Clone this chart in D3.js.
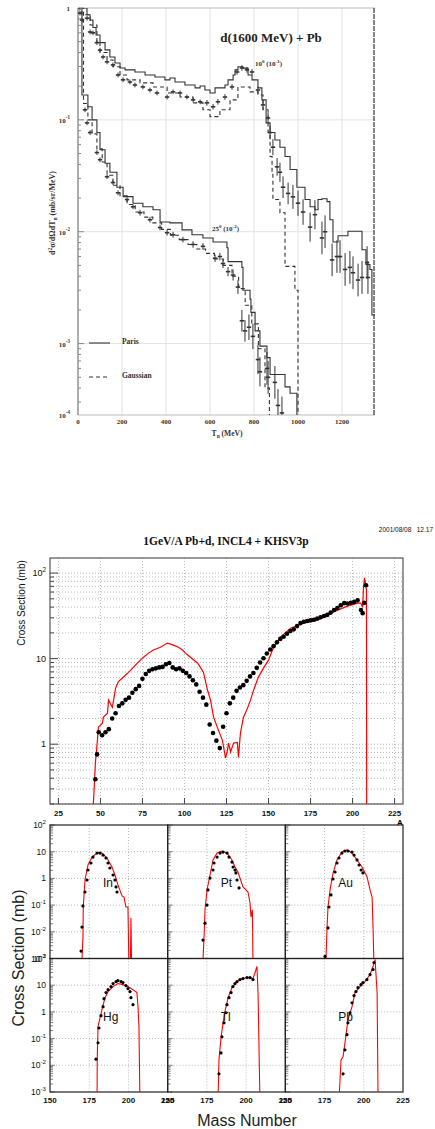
<!DOCTYPE html>
<html>
<head>
<meta charset="utf-8">
<script src="https://cdn.jsdelivr.net/npm/d3@7"></script>
<style>
body { margin: 0; background: #fff; }
svg { display: block; }
</style>
</head>
<body>
<script>
// ---------- top figure: d(1600 MeV)+Pb neutron spectra ----------
// histograms: [T start of bin (MeV), d2sigma (mb/sr/MeV)]
var paris10 = [[0,1.06],[23,1.0],[41,0.87],[55,0.78],[68,0.67],[82,0.574],[100,0.49],[123,0.422],[145,0.365],[168,0.322],[191,0.291],[214,0.28],[259,0.268],[305,0.252],[350,0.242],[395,0.228],[418,0.237],[441,0.218],[486,0.205],[532,0.193],[555,0.201],[577,0.185],[600,0.174],[623,0.193],[668,0.205],[682,0.228],[705,0.252],[714,0.28],[727,0.298],[750,0.29],[773,0.252],[791,0.228],[818,0.193],[836,0.151],[855,0.094],[873,0.077],[895,0.066],[918,0.057],[941,0.047],[964,0.036],[995,0.025],[1032,0.0194],[1055,0.0167],[1077,0.0157],[1091,0.0194],[1109,0.0197],[1132,0.0186],[1145,0.0128],[1159,0.0081],[1182,0.0092],[1227,0.0101],[1291,0.0069],[1309,0.0051],[1327,0.0046],[1336,0.0018],[1350,0.0018]];
var gauss10 = [[0,1.0],[9,0.96],[18,0.87],[55,0.705],[86,0.49],[100,0.40],[132,0.343],[159,0.298],[191,0.252],[223,0.228],[282,0.214],[341,0.197],[405,0.174],[464,0.16],[523,0.142],[568,0.123],[600,0.107],[645,0.123],[691,0.151],[727,0.197],[782,0.178],[818,0.167],[841,0.123],[864,0.077],[873,0.047],[882,0.034],[886,0.0194],[918,0.0148],[941,0.0049],[986,0.003],[1000,0.00001],[1350,0.00001]];
var paris25 = [[0,1.2],[18,0.167],[45,0.131],[64,0.1],[86,0.077],[100,0.054],[123,0.041],[145,0.034],[177,0.025],[205,0.0206],[250,0.018],[295,0.0167],[341,0.0157],[373,0.0122],[418,0.012],[473,0.0104],[518,0.0094],[568,0.0088],[614,0.0081],[677,0.0072],[682,0.0054],[745,0.0048],[750,0.003],[782,0.0025],[786,0.0019],[805,0.0013],[827,0.00095],[859,0.00075],[873,0.00053],[941,0.00041],[964,0.00036],[995,0.00022],[1020,0.00015],[1350,0.00015]];
var gauss25 = [[0,1.1],[25,0.14],[45,0.1],[64,0.075],[86,0.055],[110,0.042],[132,0.032],[159,0.026],[191,0.021],[223,0.0175],[260,0.015],[300,0.0135],[340,0.012],[380,0.0105],[420,0.0093],[460,0.0085],[500,0.0077],[540,0.007],[580,0.0064],[620,0.0057],[660,0.005],[700,0.004],[730,0.0031],[760,0.0022],[790,0.0015],[820,0.0009],[850,0.0004],[870,0.00001],[1350,0.00001]];
// measured points: [T, value, relative error]
var data10 = [[9,0.90,0.05],[18,0.78,0.05],[41,0.81,0.05],[55,0.61,0.05],[68,0.60,0.05],[86,0.49,0.05],[100,0.42,0.05],[114,0.365,0.05],[132,0.33,0.05],[159,0.31,0.05],[182,0.252,0.05],[205,0.228,0.05],[236,0.218,0.05],[259,0.205,0.05],[295,0.197,0.05],[327,0.185,0.05],[359,0.174,0.05],[405,0.16,0.05],[432,0.178,0.05],[464,0.174,0.05],[495,0.16,0.05],[523,0.151,0.05],[555,0.145,0.05],[586,0.142,0.06],[614,0.131,0.06],[636,0.145,0.06],[668,0.16,0.06],[700,0.197,0.06],[723,0.268,0.06],[745,0.291,0.06],[768,0.28,0.06],[791,0.268,0.06],[818,0.185,0.08],[841,0.136,0.1],[864,0.104,0.12],[873,0.077,0.15],[886,0.057,0.18],[905,0.038,0.2],[918,0.034,0.22],[932,0.025,0.25],[955,0.022,0.25],[977,0.0205,0.28],[1000,0.018,0.3],[1023,0.015,0.3],[1055,0.011,0.35],[1077,0.0142,0.35],[1109,0.0088,0.4],[1123,0.01,0.4],[1155,0.0056,0.4],[1177,0.006,0.4],[1191,0.006,0.4],[1214,0.0046,0.4],[1236,0.0048,0.4],[1250,0.0043,0.4],[1273,0.0037,0.4],[1291,0.0039,0.4],[1314,0.0053,0.4],[1318,0.0039,0.4]];
var data25 = [[32,0.123,0.05],[41,0.094,0.05],[55,0.077,0.05],[86,0.051,0.05],[100,0.044,0.05],[132,0.031,0.05],[159,0.0275,0.05],[182,0.0223,0.05],[223,0.0194,0.05],[250,0.0167,0.05],[282,0.0148,0.06],[327,0.0128,0.06],[373,0.0109,0.06],[405,0.0098,0.06],[432,0.0094,0.06],[477,0.0085,0.06],[523,0.0077,0.07],[568,0.0074,0.07],[623,0.0058,0.08],[645,0.006,0.08],[659,0.0052,0.1],[682,0.0044,0.1],[705,0.0041,0.12],[727,0.0032,0.15],[745,0.0016,0.25],[759,0.0013,0.25],[777,0.0014,0.3],[795,0.00116,0.3],[818,0.00072,0.35],[827,0.00056,0.35],[859,0.0006,0.4],[864,0.0005,0.4],[895,0.00045,0.4],[909,0.00028,0.4],[927,0.00024,0.4]];
var topXTicks = [0, 200, 400, 600, 800, 1000, 1200];
var topYExp = [0, -1, -2, -3, -4];

// ---------- middle figure: mass distribution ----------
var massA = [47,48,49,51,53,55,57,59,61,63,65,67,69,71,73,75,77,79,81,83,85,87,89,91,93,95,97,99,101,103,105,107,109,111,113,115,117,119,121,123,125,127,129,131,133,135,137,139,141,143,145,147,149,151,153,155,157,159,161,163,165,167,169,171,173,175,177,179,181,183,185,187,189,191,193,195,197,199,201,203,205,206,207,208];
var massData = [0.39,0.76,1.38,1.27,1.38,1.5,2.0,2.3,2.8,3.0,3.3,3.5,4.0,4.4,4.8,5.8,6.6,7.2,7.5,7.7,7.9,8.0,8.6,8.9,7.9,7.5,7.7,7.2,6.8,6.2,5.6,5.0,4.1,3.5,2.9,1.7,1.35,1.1,0.9,1.6,2.3,3.0,3.5,4.2,4.6,4.9,5.5,6.2,6.8,7.8,9.0,10.1,11.5,12.8,14.0,15.5,17.0,18.0,19.5,21.0,22.0,24.0,26.0,27.0,27.5,28.0,28.5,29.5,30.5,31.5,32.5,34.5,37.0,39.0,42.0,44.5,44.0,45.0,46.0,48.0,37.0,34.0,45.0,72.0];
var modelA = [45.8,47,48.2,48.8,51.2,51.8,54.2,54.8,57.1,59,60.7,63.7,66.7,69.6,72.6,75.6,78.6,81.5,85.7,89.9,93.5,96.4,98.8,101.2,103.6,107.7,109.5,111.3,113.7,115.5,117.3,120.2,122.6,124.4,125.6,126.2,127.4,129.2,131.5,132.1,133.3,135.1,137.5,139.3,141.1,144,147,150,153,157.1,163.1,170.8,179.2,185.1,191.1,197,203,204.8,206,206.5,207.1,208.3,208.4];
var modelV = [0.2,0.6,1.11,1.58,1.76,2.07,2.3,3.27,2.7,4.5,5.4,6.1,6.9,7.9,9.1,10.4,11.6,12.6,13.6,15.2,14.4,13.6,12.6,11.3,10.4,8.9,7.9,6.9,4.3,3.27,2.07,1.46,1.11,0.69,0.85,1.03,0.81,1.03,1.05,0.7,1.35,2.07,2.64,3.27,4.28,6.08,7.75,9.6,13.6,17.8,22.7,26.0,28.2,32.3,36.9,41.1,44.6,44.6,40.0,68.6,87.7,63.0,0.1];
var midXTicks = [25, 50, 75, 100, 125, 150, 175, 200, 225];
var midYExp = [0, 1, 2];

// ---------- bottom panels: isotopic distributions ----------
var elements = ["In", "Pt", "Au", "Hg", "Tl", "Pb"];
var inModel = [[170.4,0.0009],[171,0.0064],[171.2,0.085],[172.3,0.87],[174.2,3.18],[176.8,6.3],[180,8.9],[183.1,8.9],[186.3,5.8],[189.5,2.67],[191.4,1.34],[193.3,0.57],[195.9,0.22],[197.2,0.2],[198.4,0.085],[199.7,0.085],[200.3,0.0005],[201.2,0.0005],[201.6,0.033],[202,0.0005]];
var inData = [[169.8,0.0019],[170.4,0.015],[171,0.093],[172.3,0.31],[173.6,0.87],[174.2,2.06],[176.1,3.78],[177.4,6.3],[180,8.9],[181.9,8.9],[183.8,7.5],[185.7,5.8],[187,3.78],[188.2,2.45],[190.2,1.34],[191.4,0.87],[192.1,0.48],[192.7,0.31]];
var ptModel = [[172.5,0.0009],[173.2,0.0064],[173.8,0.066],[175.1,0.37],[177,1.34],[178.9,4.9],[181.5,8.9],[184.6,10.6],[187.8,8.9],[191,4.9],[192.9,2.67],[194.8,1.74],[198,0.48],[201.2,0.31],[202.5,0.12],[203.1,0.036],[204,0.066],[204.4,0.0005]];
var ptData = [[172.5,0.0049],[173.8,0.021],[175.1,0.1],[175.7,0.37],[177,1.03],[178.9,2.06],[179.5,3.78],[181.5,6.3],[183.4,8.9],[185.3,9.7],[187.8,8.9],[189.1,6.3],[191,4.1],[191.7,2.67],[192.9,2.06],[193.5,1.6],[194.2,0.87],[195.5,0.44]];
var auModel = [[175.9,0.0009],[176.6,0.015],[177.2,0.085],[178.5,0.37],[180.4,1.59],[182.9,4.9],[186.1,9.75],[189.3,11.6],[192.5,8.9],[195.7,4.9],[198.9,2.67],[202.1,1.13],[204,0.37],[205.3,0.2],[205.9,0.015],[206.5,0.0005]];
var auData = [[175.3,0.0012],[177.2,0.014],[177.8,0.085],[179.1,0.24],[180.4,0.95],[181.7,1.74],[182.9,3.78],[184.2,5.8],[186.1,8.9],[188,10.6],[190,10.6],[192.5,9.7],[193.8,7.5],[195.7,4.9],[197,3.18],[198.3,2.06],[199.5,1.6]];
var hgModel = [[180,0.0005],[180.1,0.016],[180.6,0.28],[181.9,0.6],[183.1,1.21],[185.1,3.42],[187,5.75],[190.2,8.85],[193.3,11.5],[196.5,10.5],[199.7,8.85],[202.9,6.8],[205.4,5.3],[206.1,1.57],[206.7,0.28],[207.3,0.0005]];
var hgData = [[179.3,0.017],[180.6,0.07],[181.2,0.25],[182.5,0.72],[183.8,1.57],[184.4,3.13],[185.7,5.3],[187,6.8],[188.9,8.85],[190.2,11.5],[192.1,13.6],[193.3,14.9],[195.3,13.6],[196.5,12.5],[198.4,9.7],[199.7,7.5],[201,5.75],[201.6,3.42],[202.9,1.87]];
var tlModel = [[182.1,0.0005],[182.7,0.016],[184,0.107],[185.3,0.39],[186.5,1.02],[188.5,3.42],[191,8.1],[194.2,13.6],[197.4,17.7],[201.2,19.3],[204.4,17.7],[205.7,29.8],[206.9,50],[207.6,5.3],[208.8,0.0005]];
var tlData = [[182.7,0.0048],[184,0.029],[184.6,0.117],[185.9,0.39],[187.2,0.93],[187.8,1.87],[189.1,3.42],[190.4,5.3],[191.6,8.85],[192.9,11.5],[194.2,13.6],[196.1,16.2],[198,17.7],[200.6,19.3],[202.5,19.3],[204.4,16.2]];
var pbModel = [[184.2,0.0005],[185.5,0.016],[186.8,0.021],[187.4,0.038],[188.7,0.14],[189.9,0.51],[192.5,1.57],[194.4,5.3],[197.6,8.85],[200.8,13.6],[204,25],[205.9,50],[207.2,92],[208.5,5.3],[209.1,0.0005]];
var pbData = [[186.8,0.0048],[188,0.038],[189.3,0.14],[189.9,0.39],[191.2,0.93],[192.5,2.2],[193.8,4.1],[195,5.75],[196.3,8.1],[198.2,10.5],[199.5,12.5],[202,16.2],[204,25],[205.9,38.5],[206.5,70.8]];
var panelXTicks = [150, 175, 200, 225];
var panelYExp = [-3, -2, -1, 0, 1, 2];

var svg = d3.select("body").append("svg").attr("width", 435).attr("height", 1129);
var serif = "Liberation Serif, Times New Roman, serif";
var sans = "Liberation Sans, Arial, Helvetica, sans-serif";

// write 10^e as text with superscript
function pow10(sel, e) {
  if (e === 0) { sel.text("1"); return; }
  sel.text("10");
  if (e !== 1) sel.append("tspan").attr("dy", -4).attr("font-size", "0.72em").text(e);
}

// ================= TOP =================
var tx = d3.scaleLinear().domain([0, 1350]).range([78, 375]);
var ty = d3.scaleLog().domain([2.3e-4, 1]).range([415, 8]);
var topG = svg.append("g");

topG.append("clipPath").attr("id", "clipTop").append("rect")
  .attr("x", 78).attr("y", 8).attr("width", 297).attr("height", 407);

// grid
topG.selectAll(".gx").data(topXTicks.slice(1)).enter().append("line")
  .attr("x1", tx).attr("x2", tx).attr("y1", 8).attr("y2", 415)
  .attr("stroke", "#e2e2e2").attr("stroke-width", 1);
topG.selectAll(".gy").data([0.1, 0.01, 0.001]).enter().append("line")
  .attr("x1", 78).attr("x2", 375).attr("y1", ty).attr("y2", ty)
  .attr("stroke", "#e2e2e2").attr("stroke-width", 1);

topG.append("line").attr("x1", 78).attr("x2", 375).attr("y1", 8).attr("y2", 8).attr("stroke", "#bbb");
topG.append("line").attr("x1", 78).attr("x2", 375).attr("y1", 415).attr("y2", 415).attr("stroke", "#bbb");
topG.append("line").attr("x1", 78).attr("x2", 78).attr("y1", 8).attr("y2", 415).attr("stroke", "#777").attr("stroke-width", 1.2);
topG.append("line").attr("x1", 374).attr("x2", 374).attr("y1", 8).attr("y2", 415)
  .attr("stroke", "#444").attr("stroke-width", 1.3).attr("stroke-dasharray", "5,1");

// minor ticks on the left axis
topG.selectAll(".mt").data(ty.ticks()).enter().append("line")
  .attr("x1", 78).attr("x2", function(d) { return Math.abs(Math.log10(d) % 1) < 1e-6 ? 84 : 81; })
  .attr("y1", ty).attr("y2", ty).attr("stroke", "#888");

topG.selectAll(".yl").data(topYExp).enter().append("text")
  .attr("x", 70).attr("y", function(e) { return (e > -4 ? ty(Math.pow(10, e)) : 415) + 3; })
  .attr("text-anchor", "end").attr("font-family", serif).attr("font-weight", "bold")
  .attr("font-size", 7).attr("fill", "#333")
  .each(function(e) { pow10(d3.select(this), e); });

topG.selectAll(".xl").data(topXTicks).enter().append("text")
  .attr("x", tx).attr("y", 424).attr("text-anchor", "middle")
  .attr("font-family", serif).attr("font-weight", "bold").attr("font-size", 7).attr("fill", "#333")
  .text(function(d) { return d; });

var xlab = topG.append("text").attr("x", 227).attr("y", 436).attr("text-anchor", "middle")
  .attr("font-family", serif).attr("font-weight", "bold").attr("font-size", 7.5).attr("fill", "#333");
xlab.append("tspan").text("T");
xlab.append("tspan").attr("dy", 2).attr("font-size", 5.5).text("n");
xlab.append("tspan").attr("dy", -2).text(" (MeV)");

var ylab = topG.append("text").attr("transform", "translate(55,213) rotate(-90)").attr("text-anchor", "middle")
  .attr("font-family", serif).attr("font-weight", "bold").attr("font-size", 8).attr("fill", "#333");
ylab.append("tspan").text("d");
ylab.append("tspan").attr("dy", -3).attr("font-size", 5.5).text("2");
ylab.append("tspan").attr("dy", 3).text("\u03c3/d\u03a9dT");
ylab.append("tspan").attr("dy", 2).attr("font-size", 5.5).text("n");
ylab.append("tspan").attr("dy", -2).text("  (mb/sr/MeV)");

var step = d3.line().x(function(d) { return tx(d[0]); }).y(function(d) { return ty(d[1]); }).curve(d3.curveStepAfter);
var curves = topG.append("g").attr("clip-path", "url(#clipTop)");
[[paris10, null], [paris25, null], [gauss10, "4,3"], [gauss25, "4,3"]].forEach(function(s) {
  curves.append("path").datum(s[0]).attr("d", step).attr("fill", "none")
    .attr("stroke", "#333").attr("stroke-width", 1.1).attr("stroke-dasharray", s[1]);
});
[data10, data25].forEach(function(ds) {
  var g = curves.append("g").attr("stroke", "#333").attr("stroke-width", 1);
  g.selectAll(".eb").data(ds).enter().append("line")
    .attr("x1", function(d) { return tx(d[0]); }).attr("x2", function(d) { return tx(d[0]); })
    .attr("y1", function(d) { return ty(d[1] * (1 + d[2])); })
    .attr("y2", function(d) { return ty(d[1] / (1 + d[2])); });
  g.selectAll(".ep").data(ds).enter().append("line")
    .attr("x1", function(d) { return tx(d[0]) - 2.2; }).attr("x2", function(d) { return tx(d[0]) + 2.2; })
    .attr("y1", function(d) { return ty(d[1]); }).attr("y2", function(d) { return ty(d[1]); })
    .attr("stroke-width", 1.6);
});

topG.append("text").attr("x", 271).attr("y", 42).attr("text-anchor", "middle")
  .attr("font-family", serif).attr("font-weight", "bold").attr("font-size", 13).attr("fill", "#222")
  .text("d(1600 MeV) + Pb");

function angleLabel(x, y, a, e) {
  var t = topG.append("text").attr("x", x).attr("y", y).attr("font-family", serif)
    .attr("font-weight", "bold").attr("font-size", 7).attr("fill", "#333");
  t.append("tspan").text(a);
  t.append("tspan").attr("dy", -3).attr("font-size", 5).text("0");
  t.append("tspan").attr("dy", 3).text(" (10");
  t.append("tspan").attr("dy", -3).attr("font-size", 5).text(e);
  t.append("tspan").attr("dy", 3).text(")");
}
angleLabel(255, 66, "10", "-1");
angleLabel(212, 231, "25", "-2");

topG.append("line").attr("x1", 89).attr("x2", 110).attr("y1", 343).attr("y2", 343).attr("stroke", "#333").attr("stroke-width", 1.1);
topG.append("line").attr("x1", 89).attr("x2", 110).attr("y1", 377).attr("y2", 377).attr("stroke", "#333").attr("stroke-width", 1.1).attr("stroke-dasharray", "4,3");
topG.append("text").attr("x", 122).attr("y", 344).attr("font-family", serif).attr("font-weight", "bold")
  .attr("font-size", 7.5).attr("fill", "#333").text("Paris");
topG.append("text").attr("x", 122).attr("y", 378).attr("font-family", serif).attr("font-weight", "bold")
  .attr("font-size", 7.5).attr("fill", "#333").text("Gaussian");

// ================= MIDDLE =================
var mx = d3.scaleLinear().domain([20, 230]).range([50, 403]);
var my = d3.scaleLog().domain([0.2, 150]).range([804, 558]);
var mid = svg.append("g");
mid.append("clipPath").attr("id", "clipMid").append("rect")
  .attr("x", 50).attr("y", 558).attr("width", 353).attr("height", 246);

mid.selectAll(".gx").data(midXTicks).enter().append("line")
  .attr("x1", mx).attr("x2", mx).attr("y1", 558).attr("y2", 804)
  .attr("stroke", "#999").attr("stroke-width", 0.7).attr("stroke-dasharray", "1,2");
mid.selectAll(".gy").data(my.ticks()).enter().append("line")
  .attr("x1", 50).attr("x2", 403).attr("y1", my).attr("y2", my)
  .attr("stroke", "#999").attr("stroke-width", 0.7).attr("stroke-dasharray", "1,2");
mid.selectAll(".mt").data(my.ticks()).enter().append("line")
  .attr("x1", 50).attr("x2", function(d) { return Math.abs(Math.log10(d) % 1) < 1e-6 ? 58 : 54; })
  .attr("y1", my).attr("y2", my).attr("stroke", "#444");
mid.selectAll(".xt").data(midXTicks).enter().append("line")
  .attr("x1", mx).attr("x2", mx).attr("y1", 804).attr("y2", 798).attr("stroke", "#444");
mid.append("rect").attr("x", 50).attr("y", 558).attr("width", 353).attr("height", 246)
  .attr("fill", "none").attr("stroke", "#555").attr("stroke-width", 1.2);

mid.selectAll(".yl").data(midYExp).enter().append("text")
  .attr("x", 46).attr("y", function(e) { return my(Math.pow(10, e)) + 3; })
  .attr("text-anchor", "end").attr("font-family", sans).attr("font-size", 9).attr("fill", "#111")
  .each(function(e) { pow10(d3.select(this), e); });
mid.selectAll(".xl").data(midXTicks).enter().append("text")
  .attr("x", mx).attr("y", 816).attr("text-anchor", "middle")
  .attr("font-family", sans).attr("font-weight", "bold").attr("font-size", 8).attr("fill", "#111")
  .text(function(d) { return d; });
mid.append("text").attr("x", 400).attr("y", 825).attr("text-anchor", "middle")
  .attr("font-family", sans).attr("font-weight", "bold").attr("font-size", 8).text("A");
mid.append("text").attr("transform", "translate(25,603) rotate(-90)").attr("text-anchor", "middle")
  .attr("font-family", sans).attr("font-size", 10).attr("fill", "#111").text("Cross Section (mb)");
mid.append("text").attr("x", 226).attr("y", 545).attr("text-anchor", "middle")
  .attr("font-family", serif).attr("font-weight", "bold").attr("font-size", 11.5).attr("fill", "#111")
  .text("1GeV/A Pb+d, INCL4 + KHSV3p");
mid.append("text").attr("x", 433).attr("y", 532).attr("text-anchor", "end")
  .attr("font-family", sans).attr("font-size", 6.5).attr("fill", "#111")
  .attr("xml:space", "preserve").text("2001/08/08   12.17");

var mplot = mid.append("g").attr("clip-path", "url(#clipMid)");
var mline = d3.line().x(function(d) { return mx(d[0]); }).y(function(d) { return my(d[1]); });
mplot.append("path").datum(d3.zip(modelA, modelV)).attr("d", mline)
  .attr("fill", "none").attr("stroke", "#ff0000").attr("stroke-width", 1.2);
mplot.selectAll(".dot").data(d3.zip(massA, massData)).enter().append("circle")
  .attr("cx", function(d) { return mx(d[0]); }).attr("cy", function(d) { return my(d[1]); })
  .attr("r", 2.3).attr("fill", "#000");

// ================= BOTTOM PANELS =================
var pw = (403 - 50) / 3, phh = 133.5;
var px = d3.scaleLinear().domain([150, 225]).range([0, pw]);
var py = d3.scaleLog().domain([1e-3, 1e2]).range([phh, 0]);
var panels = [[inModel, inData], [ptModel, ptData], [auModel, auData],
              [hgModel, hgData], [tlModel, tlData], [pbModel, pbData]];
var pline = d3.line().x(function(d) { return px(d[0]); }).y(function(d) { return py(d[1]); });

panels.forEach(function(p, i) {
  var col = i % 3, row = Math.floor(i / 3);
  var g = svg.append("g").attr("transform", "translate(" + (50 + col * pw) + "," + (825 + row * phh) + ")");
  g.append("clipPath").attr("id", "cp" + i).append("rect").attr("width", pw).attr("height", phh);
  g.selectAll(".gx").data([175, 200]).enter().append("line")
    .attr("x1", px).attr("x2", px).attr("y1", 0).attr("y2", phh)
    .attr("stroke", "#999").attr("stroke-width", 0.7).attr("stroke-dasharray", "1,2");
  g.selectAll(".gy").data([0.01, 0.1, 1, 10]).enter().append("line")
    .attr("x1", 0).attr("x2", pw).attr("y1", py).attr("y2", py)
    .attr("stroke", "#999").attr("stroke-width", 0.7).attr("stroke-dasharray", "1,2");
  g.selectAll(".mt").data(py.ticks()).enter().append("line")
    .attr("x1", 0).attr("x2", function(d) { return Math.abs(Math.log10(d) % 1) < 1e-6 ? 5 : 3; })
    .attr("y1", py).attr("y2", py).attr("stroke", "#666").attr("stroke-width", 0.8);
  g.append("rect").attr("width", pw).attr("height", phh).attr("fill", "none")
    .attr("stroke", "#222").attr("stroke-width", 1.2);
  var c = g.append("g").attr("clip-path", "url(#cp" + i + ")");
  c.append("path").datum(p[0]).attr("d", pline).attr("fill", "none")
    .attr("stroke", "#ff0000").attr("stroke-width", 1.1);
  c.selectAll(".dot").data(p[1]).enter().append("circle")
    .attr("cx", function(d) { return px(d[0]); }).attr("cy", function(d) { return py(d[1]); })
    .attr("r", 1.6).attr("fill", "#000");
  g.append("text").attr("x", 53).attr("y", 62).attr("font-family", sans)
    .attr("font-size", 12).attr("fill", "#111").text(elements[i]);
  if (col === 0) {
    g.selectAll(".yl").data(panelYExp).enter().append("text")
      .attr("x", -4).attr("y", function(e) { return py(Math.pow(10, e)) + 3; })
      .attr("text-anchor", "end").attr("font-family", sans).attr("font-size", 8.5).attr("fill", "#111")
      .each(function(e) { pow10(d3.select(this), e); });
  }
  if (row === 1) {
    g.selectAll(".xl").data(panelXTicks).enter().append("text")
      .attr("x", px).attr("y", phh + 11).attr("text-anchor", "middle")
      .attr("font-family", sans).attr("font-weight", "bold").attr("font-size", 8).attr("fill", "#111")
      .text(function(d) { return d; });
  }
});

svg.append("text").attr("transform", "translate(24,958) rotate(-90)").attr("text-anchor", "middle")
  .attr("font-family", sans).attr("font-size", 16).attr("fill", "#222").text("Cross Section (mb)");
svg.append("text").attr("x", 247).attr("y", 1126).attr("text-anchor", "middle")
  .attr("font-family", sans).attr("font-size", 16).attr("fill", "#222").text("Mass Number");
</script>
</body>
</html>
